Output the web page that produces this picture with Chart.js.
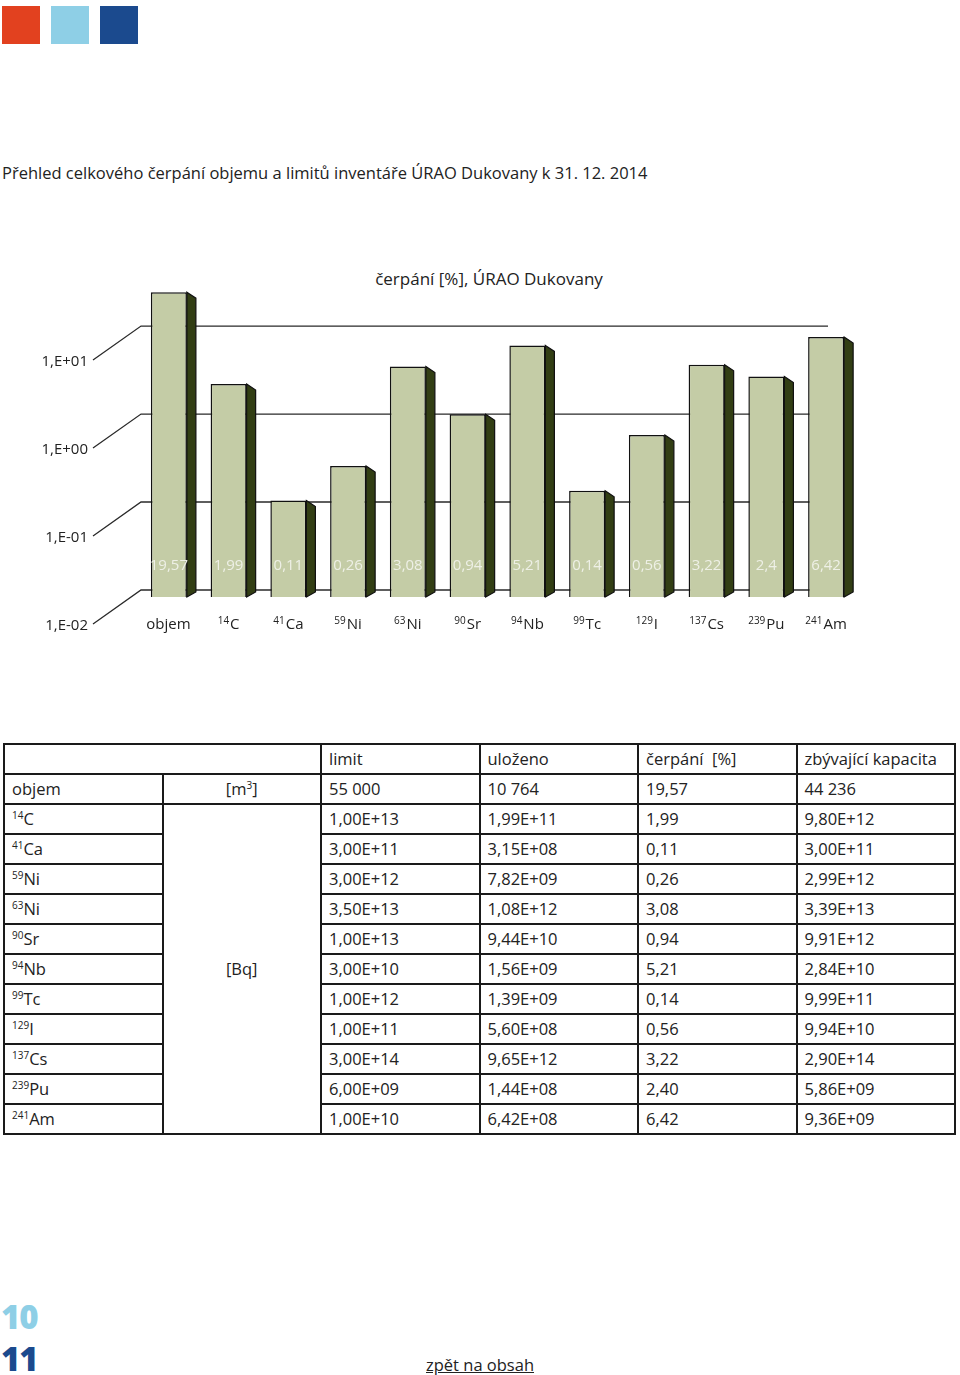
<!DOCTYPE html>
<html>
<head>
<meta charset="utf-8">
<script src="https://cdn.jsdelivr.net/npm/chart.js@4"></script>
<style>
body { margin: 0; background: #fff; font-family: "Open Sans", sans-serif; color: #222; }
#page { position: relative; width: 960px; height: 1375px; overflow: hidden; }
.sq { position: absolute; top: 6px; width: 38px; height: 38px; }
#nadpis { position: absolute; left: 2px; top: 161px; font-size: 16.5px; white-space: nowrap; }
#grafTitulek { position: absolute; left: 0; width: 978px; text-align: center; top: 267px; font-size: 17px; }
#graf { position: absolute; left: 0; top: 250px; }
#tabulka { position: absolute; left: 3px; top: 743px; width: 953px; border-collapse: collapse; font-size: 16.5px; table-layout: fixed; }
#tabulka td { border: 2px solid #1a1a1a; height: 28px; padding: 0 0 0 7px; line-height: 28px; white-space: nowrap; }
#tabulka td.jed { text-align: center; padding: 0; }
sup { font-size: 10px; vertical-align: 6px; line-height: 0; }
#str10 { position: absolute; left: 1px; top: 1294px; font-size: 33px; font-weight: 800; color: #8ecfe6; letter-spacing: -1px; }
#str11 { position: absolute; left: 1px; top: 1336px; font-size: 33px; font-weight: 800; color: #1b4a8e; letter-spacing: -1px; }
#zpet { position: absolute; left: 426px; top: 1353px; font-size: 16.5px; color: #222; text-decoration: underline; }
</style>
</head>
<body>
<div id="page">
  <div class="sq" style="left:2px;background:#e2411f"></div>
  <div class="sq" style="left:51px;background:#8ecfe6"></div>
  <div class="sq" style="left:100px;background:#1b4a8e"></div>
  <div id="nadpis">Přehled celkového čerpání objemu a limitů inventáře ÚRAO Dukovany k 31. 12. 2014</div>
  <div id="grafTitulek">čerpání [%], ÚRAO Dukovany</div>
  <canvas id="graf" width="960" height="420"></canvas>
  <table id="tabulka"></table>
  <div id="str10">10</div>
  <div id="str11">11</div>
  <div id="zpet">zpět na obsah</div>
</div>
<script>
// popisky sloupcu (nukleonove cislo + prvek)
var izotopy = ['', '14', '41', '59', '63', '90', '94', '99', '129', '137', '239', '241'];
var prvky = ['objem', 'C', 'Ca', 'Ni', 'Ni', 'Sr', 'Nb', 'Tc', 'I', 'Cs', 'Pu', 'Am'];
var cerpani = [19.57, 1.99, 0.11, 0.26, 3.08, 0.94, 5.21, 0.14, 0.56, 3.22, 2.4, 6.42];
var osaHodnoty = [0.01, 0.1, 1, 10];
var osaPopisky = ['1,E-02', '1,E-01', '1,E+00', '1,E+01'];

// tabulka
var limit = ['55 000', '1,00E+13', '3,00E+11', '3,00E+12', '3,50E+13', '1,00E+13', '3,00E+10', '1,00E+12', '1,00E+11', '3,00E+14', '6,00E+09', '1,00E+10'];
var ulozeno = ['10 764', '1,99E+11', '3,15E+08', '7,82E+09', '1,08E+12', '9,44E+10', '1,56E+09', '1,39E+09', '5,60E+08', '9,65E+12', '1,44E+08', '6,42E+08'];
var cerpaniText = ['19,57', '1,99', '0,11', '0,26', '3,08', '0,94', '5,21', '0,14', '0,56', '3,22', '2,40', '6,42'];
var zbyva = ['44 236', '9,80E+12', '3,00E+11', '2,99E+12', '3,39E+13', '9,91E+12', '2,84E+10', '9,99E+11', '9,94E+10', '2,90E+14', '5,86E+09', '9,36E+09'];

var html = '<colgroup><col><col><col><col><col><col></colgroup>';
html += '<tr><td colspan="2"></td><td>limit</td><td>uloženo</td><td>čerpání&nbsp; [%]</td><td>zbývající kapacita</td></tr>';
for (var i = 0; i < prvky.length; i++) {
    var nazev = izotopy[i] ? '<sup>' + izotopy[i] + '</sup>' + prvky[i] : prvky[i];
    html += '<tr><td>' + nazev + '</td>';
    if (i == 0) html += '<td class="jed">[m<sup>3</sup>]</td>';
    if (i == 1) html += '<td class="jed" rowspan="11">[Bq]</td>';
    html += '<td>' + limit[i] + '</td><td>' + ulozeno[i] + '</td><td>' + cerpaniText[i] + '</td><td>' + zbyva[i] + '</td></tr>';
}
document.getElementById('tabulka').innerHTML = html;

var font = '"Open Sans", sans-serif';

// zadni stena + sikme cary k popiskum osy
var stena = {
    id: 'stena',
    beforeDatasetsDraw: function(chart) {
        var ctx = chart.ctx;
        var y = chart.scales.y;
        var dno = chart.chartArea.bottom;
        ctx.save();
        ctx.strokeStyle = '#2a2a2a';
        ctx.lineWidth = 1.3;
        ctx.fillStyle = '#222';
        ctx.font = '15px ' + font;
        ctx.textAlign = 'right';
        ctx.textBaseline = 'middle';
        for (var i = 0; i < osaHodnoty.length; i++) {
            var p = y.getPixelForValue(osaHodnoty[i]);
            var zy = dno - 7 - (dno - p) * 0.95;
            ctx.beginPath();
            ctx.moveTo(93, zy + 34);
            ctx.lineTo(141, zy);
            ctx.lineTo(828, zy);
            ctx.stroke();
            ctx.fillText(osaPopisky[i], 88, zy + 36);
        }
        ctx.restore();
    },
    afterDatasetsDraw: function(chart) {
        var ctx = chart.ctx;
        var meta = chart.getDatasetMeta(0);
        ctx.save();
        meta.data.forEach(function(bar, i) {
            var r = bar.x + bar.width / 2;
            ctx.beginPath();
            ctx.moveTo(r, bar.y);
            ctx.lineTo(r + 9, bar.y + 6);
            ctx.lineTo(r + 9, bar.base - 5);
            ctx.lineTo(r, bar.base);
            ctx.closePath();
            ctx.fillStyle = '#323e14';
            ctx.fill();
            ctx.strokeStyle = '#111';
            ctx.lineWidth = 1.2;
            ctx.stroke();

            // hodnota v sloupci
            ctx.fillStyle = '#eef0e6';
            ctx.font = '15px ' + font;
            ctx.textAlign = 'center';
            ctx.textBaseline = 'middle';
            ctx.fillText(String(cerpani[i]).replace('.', ','), bar.x, bar.base - 31);

            // popisek pod sloupcem
            ctx.fillStyle = '#222';
            ctx.textBaseline = 'alphabetic';
            ctx.textAlign = 'left';
            ctx.font = '10px ' + font;
            var w1 = ctx.measureText(izotopy[i]).width;
            ctx.font = '15px ' + font;
            var w2 = ctx.measureText(prvky[i]).width;
            var x0 = bar.x - (w1 + w2 + 1) / 2;
            var yl = bar.base + 32;
            if (izotopy[i]) {
                ctx.font = '10px ' + font;
                ctx.fillText(izotopy[i], x0, yl - 5);
                x0 += w1 + 1;
            }
            ctx.font = '15px ' + font;
            ctx.fillText(prvky[i], x0, yl);
        });
        ctx.restore();
    }
};

new Chart(document.getElementById('graf'), {
    type: 'bar',
    data: {
        labels: prvky.map(function(p, i) { return izotopy[i] + p; }),
        datasets: [{
            data: cerpani,
            backgroundColor: '#c4cca6',
            borderColor: '#111',
            borderWidth: 1.5,
            barPercentage: 0.603,
            categoryPercentage: 1
        }]
    },
    options: {
        responsive: false,
        animation: false,
        layout: {
            padding: { left: 139, right: 104, top: 25, bottom: 73 }
        },
        plugins: {
            legend: { display: false },
            tooltip: { enabled: false }
        },
        scales: {
            x: { display: false },
            y: { display: false, type: 'logarithmic', min: 0.01, max: 30 }
        }
    },
    plugins: [stena]
});
</script>
</body>
</html>
